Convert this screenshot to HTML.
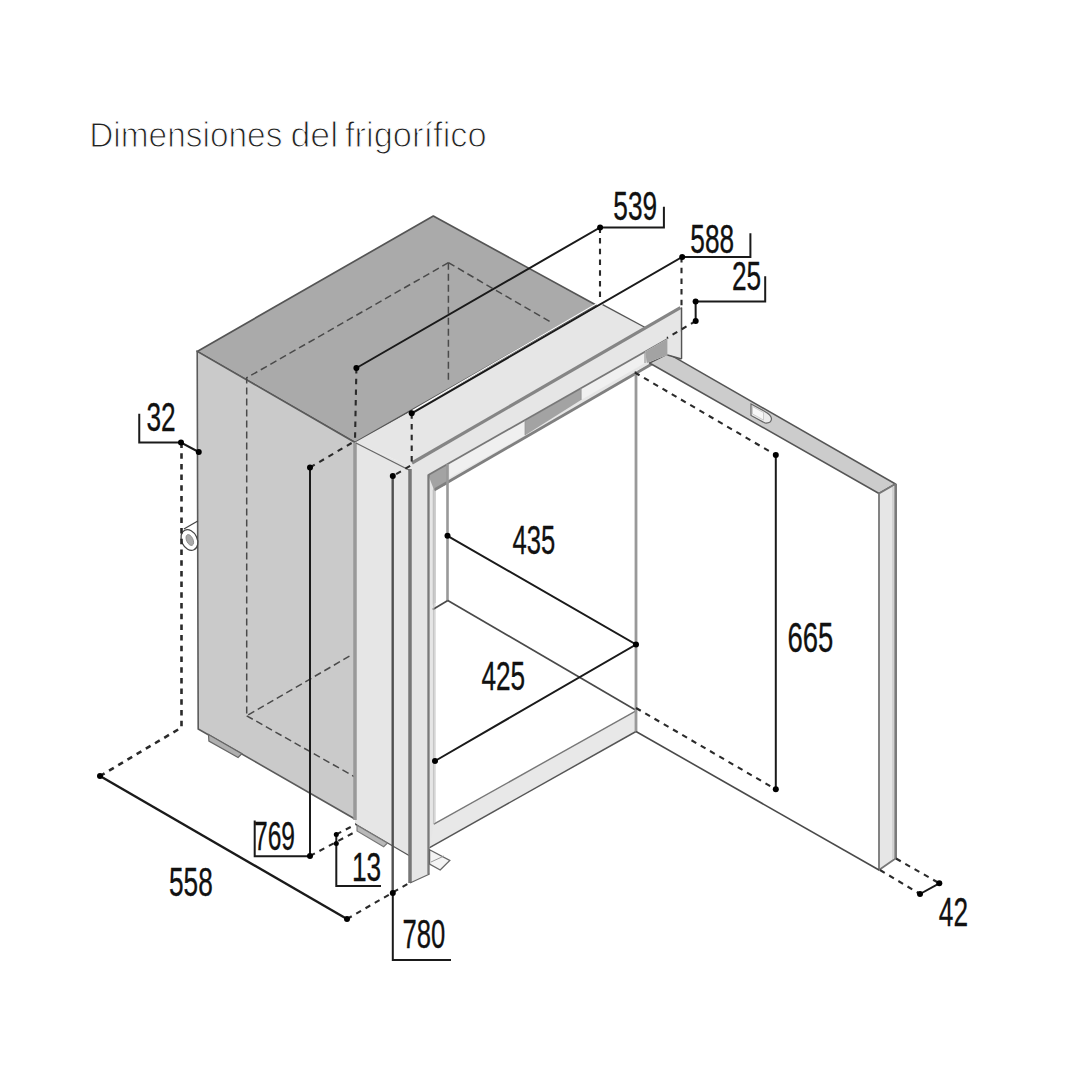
<!DOCTYPE html>
<html><head><meta charset="utf-8">
<style>
html,body{margin:0;padding:0;background:#fff;}
body{width:1080px;height:1080px;overflow:hidden;}
svg{display:block;}
.t{font-family:"Liberation Sans",sans-serif;}
</style></head>
<body>
<svg width="1080" height="1080" viewBox="0 0 1080 1080">
<rect width="1080" height="1080" fill="#fff"/>
<!-- title -->
<g class="t" font-size="35" fill="#222" stroke="#fff" stroke-width="1.1">
<text x="89.2" y="147.5" transform="translate(89.2 0) scale(0.955 1) translate(-89.2 0)">Dimensiones</text>
<text x="290.5" y="147.5" transform="translate(290.5 0) scale(1.02 1) translate(-290.5 0)">del</text>
<text x="345" y="147.5" transform="translate(345 0) scale(0.985 1) translate(-345 0)">frigorífico</text>
</g>

<!-- top face -->
<polygon points="433.3,216 596,305 355,442.5 197.2,351.4" fill="#aaaaaa" stroke="#555" stroke-width="1.7" stroke-linejoin="round"/>
<!-- left side face -->
<polygon points="197.2,351.4 355,442.5 355,819 198.2,729" fill="#cacaca" stroke="#5a5a5a" stroke-width="1.6"/>
<!-- foot -->
<polygon points="208.5,734.4 241.9,753.7 238.1,757.4 208.9,741.1" fill="#b0b0b0" stroke="#666" stroke-width="1.2"/>
<!-- knob -->
<line x1="183.9" y1="529" x2="197.8" y2="521" stroke="#444" stroke-width="1.25"/>
<ellipse cx="189.4" cy="540" rx="7.8" ry="10.8" transform="rotate(-25 189.4 540)" fill="#fff" stroke="#444" stroke-width="1.25"/>
<ellipse cx="189.8" cy="540" rx="3.2" ry="5.8" transform="rotate(-25 189.8 540)" fill="#aaa" stroke="#888" stroke-width="0.8"/>
<!-- hidden (dashed) cabinet lines -->
<g fill="none" stroke="#4a4a4a" stroke-width="1.5" stroke-dasharray="7 4">
<polyline points="448.4,262.7 246.7,377.8 246.7,715.8 350.8,655.4"/>
<polyline points="448.4,262.7 552.6,323.2"/>
<polyline points="448.4,262.7 448.4,382"/>
<polyline points="246.7,715.8 355,777"/>
</g>

<!-- frame top strip -->
<polygon points="355,442.5 602.6,304.7 645.2,327.5 410,466" fill="#e6e6e6"/>
<line x1="602.6" y1="304.7" x2="645.2" y2="327.5" stroke="#555" stroke-width="1.4"/>
<!-- frame left depth strip -->
<polygon points="355,442.5 410,466 410,855.5 355,824" fill="#e6e6e6"/>
<line x1="356" y1="824.5" x2="409" y2="855.5" stroke="#555" stroke-width="1.3"/>
<polygon points="357,825.2 387.4,843 383.7,846.7 357,831" fill="#b8b8b8" stroke="#777" stroke-width="1.1"/>
<!-- front frame face -->
<polygon points="410,466 680.4,307.6 681.5,358.5 669,353.5 636,371 636,731.5 429.6,847.6 429.6,874 410,883" fill="#e6e6e6"/>
<!-- opening interior -->
<polygon points="434.2,490 647,366 636,371 636,731.5 433.8,824.2" fill="#fff"/>
<!-- inner left wall strip -->
<polygon points="432.5,490 436,488 436,603 432.5,605" fill="#cfcfcf"/>
<polygon points="432.5,605 436,603 436,822 432.5,824" fill="#e2e2e2"/>
<!-- white strips in top band -->
<polygon points="449.3,463 525.2,420.4 525.2,435.2 449.3,477.8" fill="#f0f0f0"/>
<polygon points="581,388.6 645,352 645,363 581,400" fill="#f0f0f0"/>
<!-- dark blocks -->
<polygon points="428.3,475 447.5,464.2 447.5,484.2 434,490" fill="#a3a3a3"/>
<polygon points="525.2,420.4 581,388.6 581,400 525.2,435.2" fill="#a3a3a3"/>
<polygon points="645,352 667.4,339 667.4,354.8 647,363" fill="#a3a3a3"/>
<!-- right flange side -->
<polygon points="667.4,339 681.5,331 681.5,358.5 667.4,354.8" fill="#e6e6e6"/>
<!-- thick frame lines -->
<line x1="355" y1="442.5" x2="355" y2="820" stroke="#999" stroke-width="3.5"/>
<line x1="392.7" y1="476" x2="392.7" y2="893" stroke="#505050" stroke-width="2.4"/>
<line x1="410" y1="469" x2="410" y2="883" stroke="#777" stroke-width="3.5"/>
<line x1="356" y1="443" x2="409" y2="470" stroke="#666" stroke-width="1.3"/>
<line x1="412" y1="463" x2="680.4" y2="307.6" stroke="#858585" stroke-width="3.2"/>
<line x1="681.5" y1="307.6" x2="681.5" y2="358.5" stroke="#555" stroke-width="1.3"/>
<line x1="428.5" y1="474.5" x2="428.5" y2="874" stroke="#7a7a7a" stroke-width="2.3"/>
<polyline points="428.3,475 667.4,339" fill="none" stroke="#777" stroke-width="1.8"/>
<line x1="434.2" y1="490" x2="667.4" y2="355" stroke="#808080" stroke-width="2.8"/>
<line x1="447.5" y1="464.2" x2="447.5" y2="600.5" stroke="#999" stroke-width="2.6"/>
<line x1="525.2" y1="420.4" x2="525.2" y2="435.2" stroke="#999" stroke-width="1.2"/>
<line x1="581" y1="388.6" x2="581" y2="400" stroke="#999" stroke-width="1.2"/>
<line x1="645" y1="352" x2="645" y2="363" stroke="#999" stroke-width="1.2"/>
<line x1="447.8" y1="600.5" x2="636" y2="710.2" stroke="#4a4a4a" stroke-width="1.7"/>
<line x1="447.8" y1="600.5" x2="432.8" y2="609.5" stroke="#4a4a4a" stroke-width="1.7"/>
<line x1="410" y1="883" x2="429.6" y2="874" stroke="#666" stroke-width="1.3"/>
<!-- bottom sill -->
<polygon points="433.8,824.2 635.1,711.3 636,731.5 429.6,847.6" fill="#e8e8e8"/>
<line x1="433.8" y1="824.2" x2="635.1" y2="711.3" stroke="#777" stroke-width="1.4"/>
<line x1="429.6" y1="847.6" x2="636" y2="731.5" stroke="#555" stroke-width="1.5"/>
<line x1="433.8" y1="488" x2="433.8" y2="824.2" stroke="#bbb" stroke-width="1"/>
<!-- foot right -->
<polygon points="429.6,849.7 449.8,860.4 440.2,870 429.6,864" fill="#f4f4f4" stroke="#666" stroke-width="1.3"/>
<line x1="431" y1="862" x2="444" y2="856" stroke="#999" stroke-width="1"/>

<!-- door -->
<line x1="636" y1="371" x2="636" y2="731.5" stroke="#999" stroke-width="2.8"/>
<polygon points="668.3,353.7 895.5,484 879,493.5 649.5,363" fill="#cccccc" stroke="#555" stroke-width="1.5" stroke-linejoin="round"/>
<polygon points="645,351.7 667.4,339 681.5,331 681.5,358.5 667.4,354.8 647,363" fill="#e6e6e6"/>
<polygon points="645,351.7 667.4,339 667.4,354.8 647,363" fill="#a3a3a3"/>
<line x1="681.5" y1="307.6" x2="681.5" y2="359" stroke="#555" stroke-width="1.3"/>
<line x1="667.4" y1="355" x2="681.5" y2="359" stroke="#555" stroke-width="1.3"/>
<polygon points="879,493.5 895.5,484 895.5,858.5 879,870" fill="#e6e6e6" stroke="#777" stroke-width="1.8" stroke-linejoin="round"/>
<line x1="893" y1="487" x2="893" y2="859" stroke="#d2d2d2" stroke-width="2"/>
<line x1="895.8" y1="484" x2="895.8" y2="858.5" stroke="#7a7a7a" stroke-width="2.4"/>
<line x1="636" y1="731.5" x2="879" y2="870" stroke="#4a4a4a" stroke-width="1.6"/>
<!-- latch -->
<path d="M751,404 L764,411 Q771.5,415 771.5,419 Q771,423.5 765,423 L751,415.5 Z" fill="#ececec" stroke="#666" stroke-width="1.2"/>
<path d="M752.5,406.5 L763.5,412.5 L763.5,420 L752.5,414 Z" fill="#f7f7f7" stroke="#bbb" stroke-width="0.7"/>

<!-- 588 highlight -->
<line x1="412.5" y1="410.5" x2="597" y2="303.5" stroke="#fff" stroke-width="1.1"/>
<!-- dimension lines -->
<g stroke="#1a1a1a" stroke-width="2" fill="none" stroke-linejoin="miter">
<polyline points="663.9,206.7 663.9,227.4 600.1,227.4 356.4,368"/>
<polyline points="750.4,233.3 750.4,257 682.2,257 411.7,413.3"/>
<polyline points="765.2,276.3 765.2,301.5 695.6,301.5 695.7,321"/>
<polyline points="139.25,413.75 139.25,442.5 181,442.5 198.75,452"/>
<line x1="100" y1="776" x2="347" y2="919" stroke-width="2.4"/>
<polyline points="254.7,820.4 254.7,856.3 310,856.3 310,467.5"/>
<polyline points="336.3,834.4 336.3,886 381,886"/>
<polyline points="392.8,893 392.8,960 451,960"/>
<polyline points="447.5,535.8 636,644.5 435,761"/>
<line x1="775.8" y1="455" x2="775.8" y2="789.3"/>
<line x1="920" y1="894" x2="939.3" y2="883.3"/>
</g>
<g stroke="#2a2a2a" stroke-width="2.1" fill="none" stroke-dasharray="5.5 5.2">
<line x1="600" y1="227.4" x2="600" y2="302"/>
<line x1="356.4" y1="368" x2="355" y2="441"/>
<line x1="681.5" y1="257" x2="681.5" y2="307"/>
<polyline points="411.7,413.3 411.7,465 392.8,476"/>
<line x1="695.7" y1="321" x2="667" y2="338"/>
<polyline points="181.5,442.5 181.5,727.5 100,776" stroke-width="2.6"/>
<line x1="347" y1="919" x2="410" y2="882.5"/>
<line x1="310" y1="467.5" x2="355" y2="441"/>
<line x1="310" y1="856" x2="356.4" y2="831.2"/>
<line x1="336.3" y1="834.4" x2="356.4" y2="824.1"/>
<line x1="634.8" y1="372.5" x2="775.8" y2="455"/>
<line x1="636" y1="708" x2="775.8" y2="789.3"/>
<line x1="880" y1="870" x2="920" y2="894"/>
<line x1="896" y1="858.5" x2="939.3" y2="883.3"/>
</g>
<g fill="#000">
<circle cx="600.1" cy="227.4" r="3"/>
<circle cx="356.4" cy="368" r="3"/>
<circle cx="682.2" cy="257" r="3"/>
<circle cx="411.7" cy="413.3" r="3"/>
<circle cx="695.6" cy="301.5" r="3"/>
<circle cx="695.7" cy="321" r="3"/>
<circle cx="181" cy="442.5" r="3"/>
<circle cx="198.75" cy="452" r="3"/>
<circle cx="100" cy="776" r="3"/>
<circle cx="347" cy="919" r="3"/>
<circle cx="310" cy="467.5" r="3"/>
<circle cx="310" cy="856" r="3"/>
<circle cx="336.3" cy="834.4" r="2.5"/>
<circle cx="336.3" cy="843.5" r="2.5"/>
<circle cx="392.8" cy="476" r="3"/>
<circle cx="392.8" cy="893" r="3"/>
<circle cx="447.5" cy="535.8" r="3"/>
<circle cx="636" cy="644.5" r="3"/>
<circle cx="435" cy="761" r="3"/>
<circle cx="775.8" cy="455" r="3"/>
<circle cx="775.8" cy="789.3" r="3"/>
<circle cx="920" cy="894" r="3"/>
<circle cx="939.3" cy="883.3" r="3"/>
</g>
<!-- numbers -->
<g class="t" font-size="41" fill="#111" stroke="#111" stroke-width="0.35">
<text x="613.3" y="220.5" transform="translate(613.3 0) scale(0.64 1) translate(-613.3 0)">539</text>
<text x="690.3" y="252.6" transform="translate(690.3 0) scale(0.64 1) translate(-690.3 0)">588</text>
<text x="731.9" y="289.6" transform="translate(731.9 0) scale(0.64 1) translate(-731.9 0)">25</text>
<text x="146.4" y="430.7" transform="translate(146.4 0) scale(0.64 1) translate(-146.4 0)">32</text>
<text x="254" y="849.8" transform="translate(254 0) scale(0.6 1) translate(-254 0)">769</text>
<text x="169" y="896" transform="translate(169 0) scale(0.64 1) translate(-169 0)">558</text>
<text x="352" y="881.5" transform="translate(352 0) scale(0.64 1) translate(-352 0)">13</text>
<text x="402.5" y="948" transform="translate(402.5 0) scale(0.625 1) translate(-402.5 0)">780</text>
<text x="512.6" y="553.8" transform="translate(512.6 0) scale(0.625 1) translate(-512.6 0)">435</text>
<text x="481.4" y="690" transform="translate(481.4 0) scale(0.64 1) translate(-481.4 0)">425</text>
<text x="787.5" y="651.8" transform="translate(787.5 0) scale(0.64 1) translate(-787.5 0)" font-size="43">665</text>
<text x="938.8" y="925.6" transform="translate(938.8 0) scale(0.64 1) translate(-938.8 0)">42</text>
</g>
</svg>
</body></html>
